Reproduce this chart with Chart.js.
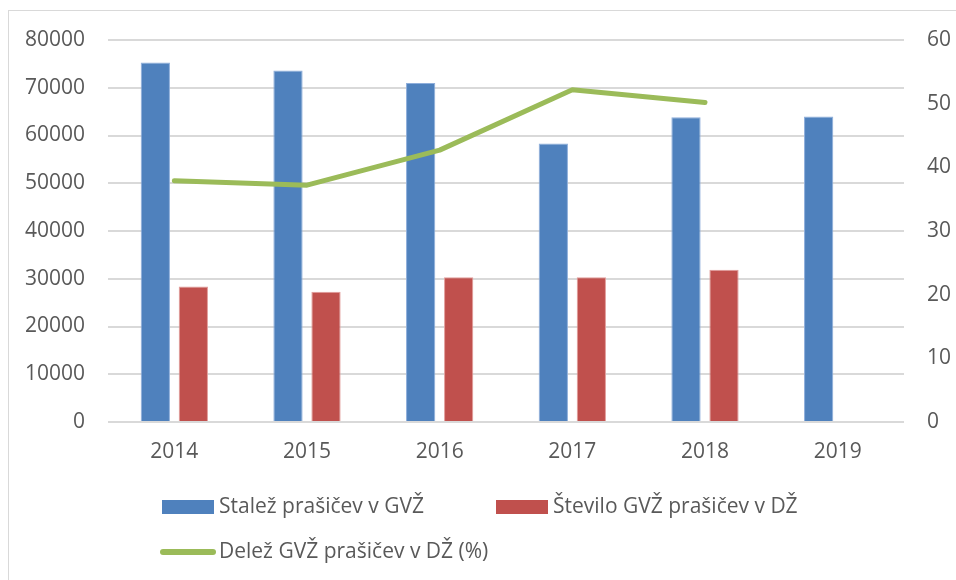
<!DOCTYPE html>
<html>
<head>
<meta charset="utf-8">
<script src="https://cdn.jsdelivr.net/npm/chart.js@4"></script>
<style>
  html, body { margin: 0; padding: 0; background: #fff; }
  #wrap { width: 956px; height: 580px; position: relative; }
</style>
</head>
<body>
<div id="wrap"><canvas id="pigChart" width="956" height="580"></canvas></div>
<script>
// data
const years = ['2014', '2015', '2016', '2017', '2018', '2019'];
const stalez = [75300, 73600, 71000, 58300, 63800, 64000];
const steviloDZ = [28400, 27300, 30300, 30300, 31900, null];
const delezDZ = [37.9, 37.2, 42.7, 52.2, 50.2, null];

const labelStalez = 'Stalež prašičev v GVŽ';
const labelStevilo = 'Število GVŽ prašičev v DŽ';
const labelDelez = 'Delež GVŽ prašičev v DŽ (%)';

const textColor = '#595959';
const fontFamily = '"Open Sans", "Liberation Sans", sans-serif';
const fontSize = 21;

// frame + legend drawn like the Excel one (2nd row left aligned)
const excelLook = {
  id: 'excelLook',
  beforeDraw(chart) {
    const c = chart.ctx;
    c.save();
    c.strokeStyle = '#d9d9d9';
    c.lineWidth = 1;
    c.strokeRect(8.5, 10.5, 1000, 700);
    c.restore();
  },
  afterDraw(chart) {
    const c = chart.ctx;
    const ds = chart.data.datasets;
    c.save();
    c.font = fontSize + 'px ' + fontFamily;
    c.fillStyle = textColor;
    c.textBaseline = 'middle';
    // row 1
    c.fillStyle = ds[0].backgroundColor;
    c.fillRect(162, 500, 52, 14);
    c.fillStyle = textColor;
    c.fillText(ds[0].label, 219, 507);
    c.fillStyle = ds[1].backgroundColor;
    c.fillRect(496, 500, 52, 14);
    c.fillStyle = textColor;
    c.fillText(ds[1].label, 553, 507);
    // row 2
    c.strokeStyle = ds[2].borderColor;
    c.lineWidth = 6;
    c.lineCap = 'round';
    c.beginPath();
    c.moveTo(163, 552);
    c.lineTo(213, 552);
    c.stroke();
    c.fillText(ds[2].label, 219, 552);
    c.restore();
  }
};

const plainTick = v => String(v);

new Chart(document.getElementById('pigChart'), {
  data: {
    labels: years,
    datasets: [
      {
        type: 'bar',
        label: labelStalez,
        data: stalez,
        backgroundColor: '#4F81BD',
        borderColor: '#8eaedb',
        borderWidth: 1,
        yAxisID: 'y',
        order: 2,
        categoryPercentage: 0.573,
        barPercentage: 0.77
      },
      {
        type: 'bar',
        label: labelStevilo,
        data: steviloDZ,
        backgroundColor: '#C0504D',
        borderColor: '#e29c9a',
        borderWidth: 1,
        yAxisID: 'y',
        order: 2,
        categoryPercentage: 0.573,
        barPercentage: 0.77
      },
      {
        type: 'line',
        label: labelDelez,
        data: delezDZ,
        borderColor: '#9BBB59',
        backgroundColor: '#9BBB59',
        borderWidth: 5,
        borderCapStyle: 'round',
        borderJoinStyle: 'round',
        pointRadius: 0,
        tension: 0,
        yAxisID: 'y1',
        order: 1
      }
    ]
  },
  options: {
    responsive: false,
    animation: false,
    layout: { padding: { top: 40, left: 0, right: 0, bottom: 0 } },
    plugins: {
      legend: { display: false },
      tooltip: { enabled: false }
    },
    scales: {
      x: {
        grid: { display: false, drawTicks: false },
        border: { display: false },
        ticks: { color: textColor, font: { family: fontFamily, size: fontSize }, padding: 17 },
        afterFit(scale) { scale.height = 158; }
      },
      y: {
        position: 'left',
        min: 0,
        max: 80000,
        ticks: { stepSize: 10000, callback: plainTick, color: textColor, font: { family: fontFamily, size: fontSize }, padding: 23 },
        grid: { color: '#d9d9d9', lineWidth: 2, drawTicks: false },
        border: { display: false },
        afterFit(scale) { scale.width = 108; }
      },
      y1: {
        position: 'right',
        min: 0,
        max: 60,
        ticks: { stepSize: 10, callback: plainTick, color: textColor, font: { family: fontFamily, size: fontSize }, padding: 23 },
        grid: { display: false, drawTicks: false },
        border: { display: false },
        afterFit(scale) { scale.width = 52; }
      }
    }
  },
  plugins: [excelLook]
});
</script>
</body>
</html>
